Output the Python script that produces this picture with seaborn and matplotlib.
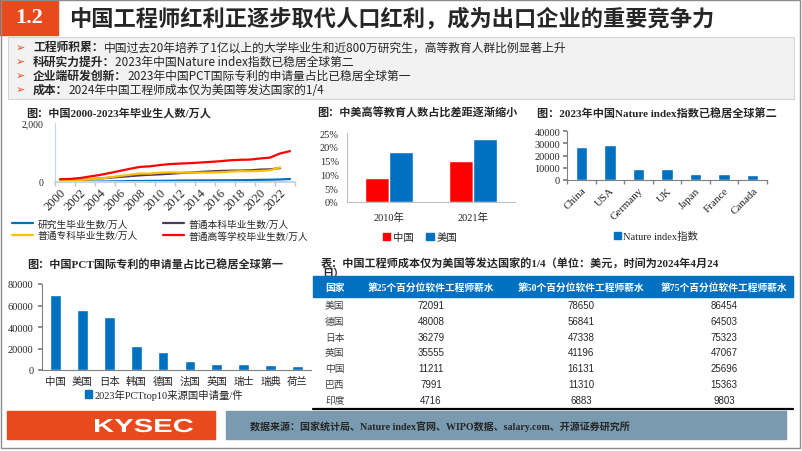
"""Slide: 中国工程师红利 — four small charts plus a salary table."""

import matplotlib
matplotlib.use("Agg")
import matplotlib.pyplot as plt
import numpy as np
import pandas as pd
import seaborn as sns
from matplotlib.font_manager import FontProperties
from matplotlib.lines import Line2D
from matplotlib.patches import Patch, PathPatch, Rectangle
from matplotlib.textpath import TextPath
from matplotlib.ticker import FuncFormatter, PercentFormatter
from matplotlib.transforms import Affine2D

sns.set_theme(style="white")
plt.rcParams["font.family"] = ["Liberation Serif", "Noto Sans CJK SC"]
plt.rcParams["axes.unicode_minus"] = False

W, H = 802, 452
ORANGE = "#E84A1E"
BLUE = "#0070C0"
RED = "#FF0000"
CJK = ["Noto Sans CJK SC", "DejaVu Sans"]
MIX = ["Liberation Serif", "Noto Sans CJK SC"]

# ---- data -------------------------------------------------------------
grad_years = list(range(2000, 2024))
grad_postgrad = [5.9, 6.8, 8.1, 11.1, 15.1, 19.0, 25.6, 31.2, 34.5, 37.1, 38.4, 43.0,
                 48.6, 51.4, 53.6, 55.2, 56.4, 57.8, 60.4, 64.0, 72.9, 77.3, 86.2, 101.5]
grad_undergrad = [49.6, 56.8, 65.6, 92.9, 119.6, 146.6, 172.7, 199.6, 225.7, 245.5, 259.1, 279.6,
                  303.8, 320.0, 341.4, 358.6, 374.4, 384.2, 386.8, 394.7, 420.5, 428.1, 471.6, np.nan]
grad_college = [45.5, 46.6, 68.2, 94.8, 119.5, 160.2, 204.8, 248.2, 286.3, 285.6, 316.4, 328.5,
                320.9, 318.8, 317.9, 322.3, 329.8, 351.6, 366.5, 363.8, 376.7, 398.4, 494.7, np.nan]
grad_total = [95.0, 103.6, 133.7, 187.7, 239.1, 306.8, 377.5, 447.8, 512.0, 531.1, 575.4, 608.2,
              624.7, 638.7, 659.4, 680.9, 704.2, 735.8, 753.3, 758.5, 797.2, 826.5, 966.3, 1047.0]
grad_series = ["研究生毕业生数/万人", "普通本科毕业生数/万人", "普通专科毕业生数/万人", "普通高等学校毕业生数/万人"]
grad_colors = ["#0070C0", "#4B3A5E", "#FFC000", "#FF0000"]

share_years = ["2010年", "2021年"]
share_china = [0.087, 0.150]
share_usa = [0.180, 0.228]

nature_countries = ["China", "USA", "Germany", "UK", "Japan", "France", "Canada"]
nature_values = [27300, 28900, 9100, 8600, 5000, 5200, 3900]

pct_countries = ["中国", "美国", "日本", "韩国", "德国", "法国", "英国", "瑞士", "瑞典", "荷兰"]
pct_values = [69610, 55678, 48879, 22288, 16916, 7924, 5603, 5340, 4480, 4150]

table_header = ["国家", "第25个百分位软件工程师薪水", "第50个百分位软件工程师薪水", "第75个百分位软件工程师薪水"]
table_countries = ["美国", "德国", "日本", "英国", "中国", "巴西", "印度"]
salary_p25 = [72091, 48008, 36279, 35555, 11211, 7991, 4716]
salary_p50 = [78650, 56841, 47338, 41196, 16131, 11310, 6883]
salary_p75 = [86454, 64503, 75323, 47067, 25696, 15363, 9803]

bullets = [
    ("工程师积累：", "中国过去20年培养了1亿以上的大学毕业生和近800万研究生，高等教育人群比例显著上升"),
    ("科研实力提升：", "2023年中国Nature index指数已稳居全球第二"),
    ("企业端研发创新：", "2023年中国PCT国际专利的申请量占比已稳居全球第一"),
    ("成本：", "2024年中国工程师成本仅为美国等发达国家的1/4"),
]

# ---- figure and slide decoration ---------------------------------------
fig = plt.figure(figsize=(W / 100, H / 100), dpi=100)
bg = fig.add_axes([0, 0, 1, 1], zorder=0)
bg.set_xlim(0, W)
bg.set_ylim(H, 0)
bg.axis("off")


def px_axes(x0, y0, x1, y1):
    ax = fig.add_axes([x0 / W, 1 - y1 / H, (x1 - x0) / W, (y1 - y0) / H], zorder=2)
    ax.patch.set_alpha(0)
    return ax


def style_spines(ax, color="#A6A6A6"):
    for side in ("top", "right"):
        ax.spines[side].set_visible(False)
    for side in ("left", "bottom"):
        ax.spines[side].set_color(color)
        ax.spines[side].set_linewidth(0.8)
    ax.set_xlabel("")
    ax.set_ylabel("")


bg.add_patch(Rectangle((1, 1), W - 3, H - 4, fill=False, ec="#8C8C8C", lw=1, zorder=10))
bg.add_patch(Rectangle((0, 0), 58, 36, color=ORANGE, zorder=2))
bg.text(29, 18, "1.2", color="white", fontsize=16, fontweight="bold", ha="center", va="center",
        family="Liberation Serif")
bg.text(69, 19, "中国工程师红利正逐步取代人口红利，成为出口企业的重要竞争力", fontsize=16,
        fontweight="bold", va="center", family=CJK)

bg.add_patch(Rectangle((8, 38), 786, 62, fc="#F2F2F2", ec="#D5D5D5", lw=0.8, zorder=1))
for (head, body), y in zip(bullets, [48, 62, 76, 90]):
    bg.text(16, y, "➢", color=ORANGE, fontsize=8, va="center", family="DejaVu Sans")
    t = bg.text(33, y, head, fontsize=8.5, fontweight="bold", va="center", family=CJK)
    bg.annotate(body, xy=(1, 0.5), xycoords=t, va="center", ha="left", fontsize=8.5, family=CJK)

# chart titles
title_kw = dict(fontsize=8, fontweight="bold", va="center", family=MIX)
bg.text(26, 113, "图：中国2000-2023年毕业生人数/万人", **title_kw)
bg.text(317, 113, "图：中美高等教育人数占比差距逐渐缩小", **title_kw)
bg.text(537, 114, "图：2023年中国Nature index指数已稳居全球第二", **title_kw)
bg.text(27, 265, "图：中国PCT国际专利的申请量占比已稳居全球第一", **title_kw)
bg.text(321, 264, "表：中国工程师成本仅为美国等发达国家的1/4（单位：美元，时间为2024年4月24", **title_kw)
bg.text(322, 274, "日）", **title_kw)

# ---- chart 1: graduates lines -----------------------------------------
ax1 = px_axes(55, 124, 295, 183)
grad_df = pd.DataFrame({"year": grad_years, grad_series[0]: grad_postgrad, grad_series[1]: grad_undergrad,
                        grad_series[2]: grad_college, grad_series[3]: grad_total})
grad_long = grad_df.melt(id_vars="year", var_name="series", value_name="value").dropna()
sns.lineplot(data=grad_long, x="year", y="value", hue="series", hue_order=grad_series,
             palette=grad_colors, linewidth=1.6, ax=ax1, legend=False)
ax1.set_xlim(1999.5, 2023.5)
ax1.set_ylim(0, 2000)
ax1.set_yticks([0, 2000])
ax1.yaxis.set_major_formatter(FuncFormatter(lambda v, _: f"{v:,.0f}"))
ax1.set_xticks(range(2000, 2023, 2))
ax1.set_xticks(np.arange(1999.5, 2024, 2), minor=True)
ax1.tick_params(axis="y", length=0, pad=8, labelsize=7)
ax1.tick_params(axis="x", which="major", length=0, pad=3, labelsize=9)
ax1.tick_params(axis="x", which="minor", length=3, bottom=True, color="#B4C6D6")
plt.setp(ax1.get_xticklabels(), rotation=45, ha="right", rotation_mode="anchor")
style_spines(ax1, "#C8D4DE")
ax1.spines["bottom"].set_linewidth(1.5)
handles = [Line2D([], [], color=c, lw=1.6, label=s) for s, c in zip(grad_series, grad_colors)]
ax1.legend(handles=[handles[0], handles[2], handles[1], handles[3]], loc="upper left",
           bbox_to_anchor=(12 / W, 1 - 220 / H), bbox_transform=fig.transFigure, ncol=2,
           frameon=False, handlelength=2.2, handletextpad=0.4, columnspacing=2.6,
           labelspacing=0.25, borderaxespad=0, borderpad=0, prop={"family": MIX, "size": 7})

# ---- chart 2: higher education share ----------------------------------
ax2 = px_axes(347, 134, 515, 203)
share_df = pd.DataFrame({"year": share_years * 2, "country": ["中国"] * 2 + ["美国"] * 2,
                         "value": share_china + share_usa})
sns.barplot(data=share_df, x="year", y="value", hue="country", palette={"中国": RED, "美国": BLUE},
            width=0.57, saturation=1, errorbar=None, legend=False, ax=ax2)
ax2.set_xlim(-0.5, 1.5)
ax2.set_ylim(0, 0.25)
ax2.set_yticks(np.arange(0, 0.26, 0.05))
ax2.yaxis.set_major_formatter(PercentFormatter(1.0, decimals=0))
ax2.tick_params(axis="y", length=0, pad=6, labelsize=7.5)
ax2.tick_params(axis="x", length=0, pad=7, labelsize=7.5)
style_spines(ax2, "#BFBFBF")
fig.legend(handles=[Patch(color=RED, label="中国"), Patch(color=BLUE, label="美国")], loc="center",
           bbox_to_anchor=(420 / W, 1 - 238 / H), ncol=2, frameon=False, handlelength=0.7,
           handleheight=0.7, handletextpad=0.3, columnspacing=1.2, prop={"family": MIX, "size": 7.5})

# ---- chart 3: Nature index -------------------------------------------
ax3 = px_axes(567, 132, 767, 181)
sns.barplot(x=nature_countries, y=nature_values, color=BLUE, width=0.4, saturation=1, ax=ax3)
ax3.set_xlim(-0.5, 6.5)
ax3.set_ylim(0, 40000)
ax3.set_yticks(range(0, 40001, 10000))
ax3.set_xticks(np.arange(-0.5, 7, 1), minor=True)
ax3.tick_params(axis="y", length=3, left=True, color="#808080", pad=2, labelsize=7.5)
ax3.tick_params(axis="x", which="major", length=0, pad=4, labelsize=8)
ax3.tick_params(axis="x", which="minor", length=3, bottom=True, color="#808080")
plt.setp(ax3.get_xticklabels(), rotation=45, ha="right", rotation_mode="anchor")
style_spines(ax3, "#808080")
fig.legend(handles=[Patch(color=BLUE, label="Nature index指数")], loc="center",
           bbox_to_anchor=(656 / W, 1 - 237 / H), frameon=False, handlelength=0.7,
           handleheight=0.7, handletextpad=0.2, prop={"family": MIX, "size": 7.5})

# ---- chart 4: PCT applications ---------------------------------------
ax4 = px_axes(42, 285, 311, 371)
sns.barplot(x=pct_countries, y=pct_values, color=BLUE, width=0.4, saturation=1, ax=ax4)
ax4.set_xlim(-0.5, 9.5)
ax4.set_ylim(0, 80000)
ax4.set_yticks(range(0, 80001, 20000))
ax4.tick_params(axis="y", length=3, left=True, color="#808080", pad=3, labelsize=7.5)
ax4.tick_params(axis="x", length=0, pad=4, labelsize=7.5)
for lab in ax4.get_xticklabels():
    lab.set_family(CJK)
style_spines(ax4, "#808080")
fig.legend(handles=[Patch(color=BLUE, label="2023年PCTtop10来源国申请量/件")], loc="center",
           bbox_to_anchor=(164 / W, 1 - 395 / H), frameon=False, handlelength=0.7,
           handleheight=0.7, handletextpad=0.2, prop={"family": MIX, "size": 7.5})

# ---- table -----------------------------------------------------------
col_x = [325, 431, 581, 724]
bg.add_patch(Rectangle((313, 277), 480, 21, color=BLUE, zorder=5))
bg.text(col_x[0], 287.5, table_header[0], color="white", fontsize=7, fontweight="bold",
        va="center", ha="left", family=CJK, zorder=6)
for x, label in zip(col_x[1:], table_header[1:]):
    bg.text(x, 287.5, label, color="white", fontsize=7, fontweight="bold", va="center",
            ha="center", family=MIX, zorder=6)
for i, (name, a, b, c) in enumerate(zip(table_countries, salary_p25, salary_p50, salary_p75)):
    y = 306 + i * 15.8
    bg.text(col_x[0], y, name, fontsize=7, color="#404040", va="center", family=CJK)
    for x, v in zip(col_x[1:], (a, b, c)):
        bg.text(x, y, str(v), fontsize=7, va="center", ha="center", family="Liberation Sans")
bg.plot([313, 793], [409.5, 409.5], color="black", lw=1.6)

# ---- footer ----------------------------------------------------------
bg.add_patch(Rectangle((7, 412), 208, 28, color=ORANGE))
# wide logo lettering: stretch a text path horizontally
logo = TextPath((0, 0), "KYSEC", size=1, prop=FontProperties(family="Liberation Sans", weight="bold"))
lb = logo.get_extents()
sx = 98 / lb.width
sy = 13.5 / 0.716
logo_tf = Affine2D().translate(-lb.x0, 0).scale(sx, -sy).translate(95, 433) + bg.transData
bg.add_patch(PathPatch(logo, fc="white", ec="none", transform=logo_tf))
bg.add_patch(Rectangle((226, 412), 560, 28, color="#7A9AB0"))
bg.text(250, 427, "数据来源：国家统计局、Nature index官网、WIPO数据、salary.com、开源证券研究所",
        fontsize=7.2, fontweight="bold", va="center", family=MIX)

fig.savefig("out.png", dpi=100)
